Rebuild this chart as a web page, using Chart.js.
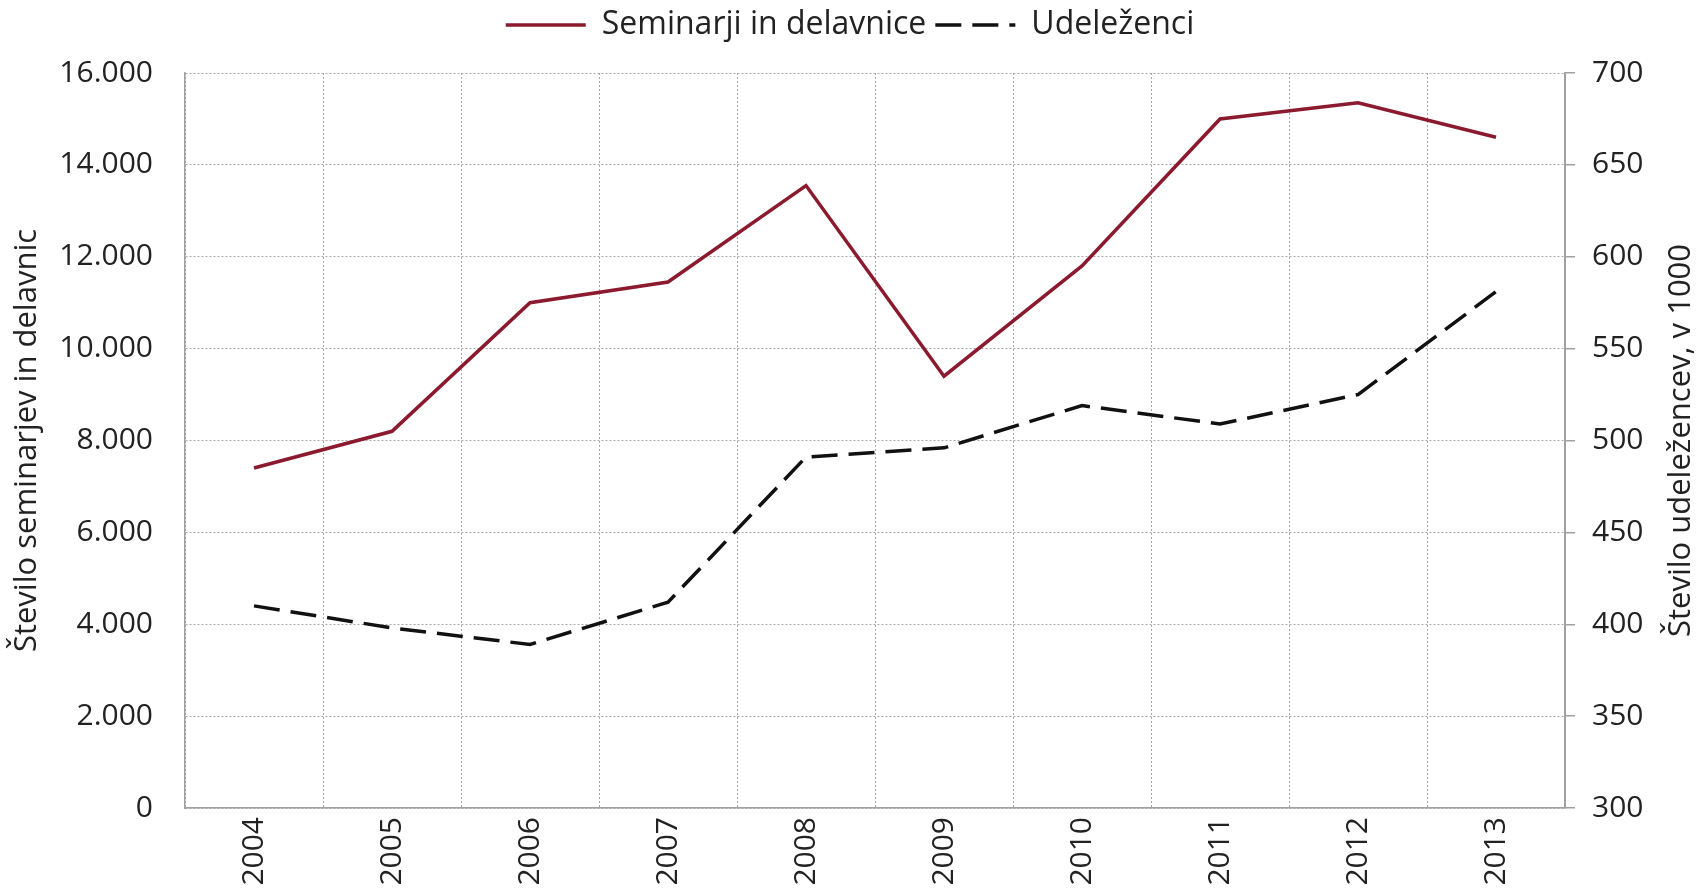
<!DOCTYPE html>
<html lang="sl">
<head>
  <meta charset="UTF-8">
  <title>Seminarji in delavnice</title>
  <script src="https://cdn.jsdelivr.net/npm/chart.js"></script>
  <style>
    body { margin: 0; background: #fff; }
    #wrap { width: 1700px; height: 892px; }
  </style>
</head>
<body>
  <div id="wrap"><canvas id="chart" width="1700" height="892"></canvas></div>

  <script>
    // podatki
    const years = ['2004', '2005', '2006', '2007', '2008', '2009', '2010', '2011', '2012', '2013'];
    const seminarji = [7400, 8200, 11000, 11450, 13550, 9400, 11800, 15000, 15350, 14600];
    const udelezenci = [410, 398, 389, 412, 491, 496, 519, 509, 525, 581];

    const FONT = '"Open Sans", "Noto Sans", sans-serif';
    const TXT = '#222';

    // legenda dobi nekaj prostora pod sabo
    const legendGap = {
      id: 'legendGap',
      afterInit(chart) {
        const lg = chart.legend;
        const fit = lg.fit.bind(lg);
        lg.fit = function() { fit(); this.height += 22; };
      }
    };

    // desni naslov osi, bere se od spodaj navzgor
    const rightTitle = {
      id: 'rightTitle',
      afterDraw(chart) {
        const ctx = chart.ctx;
        const a = chart.chartArea;
        ctx.save();
        ctx.translate(1681, (a.top + a.bottom) / 2);
        ctx.rotate(-Math.PI / 2);
        ctx.font = '31px ' + FONT;
        ctx.fillStyle = TXT;
        ctx.textAlign = 'center';
        ctx.textBaseline = 'middle';
        ctx.fillText('Število udeležencev, v 1000', 0, 0);
        ctx.restore();
      }
    };

    const ctx = document.getElementById('chart').getContext('2d');
    new Chart(ctx, {
      type: 'line',
      data: {
        labels: years,
        datasets: [{
          label: 'Seminarji in delavnice',
          data: seminarji,
          yAxisID: 'y',
          borderColor: '#8b1a2e',
          backgroundColor: '#8b1a2e',
          borderWidth: 3.5,
          pointRadius: 0,
          tension: 0
        }, {
          label: 'Udeleženci',
          data: udelezenci,
          yAxisID: 'y1',
          borderColor: '#111',
          backgroundColor: '#111',
          borderWidth: 3.5,
          borderDash: [26, 11],
          pointRadius: 0,
          tension: 0
        }]
      },
      options: {
        responsive: false,
        animation: false,
        layout: { padding: 0 },
        plugins: {
          legend: {
            position: 'top',
            labels: {
              usePointStyle: true,
              pointStyle: 'line',
              pointStyleWidth: 80,
              boxWidth: 80,
              padding: 9,
              color: TXT,
              font: { family: FONT, size: 32 },
              generateLabels: function(chart) {
                const items = Chart.defaults.plugins.legend.labels.generateLabels(chart);
                items.forEach(function(it) {
                  const ds = chart.data.datasets[it.datasetIndex];
                  it.lineDash = ds.borderDash || [];
                  it.lineWidth = ds.borderWidth;
                  it.strokeStyle = ds.borderColor;
                });
                return items;
              }
            }
          },
          tooltip: { enabled: false }
        },
        scales: {
          x: {
            offset: true,
            afterFit: function(s) { s.height = 84; },
            grid: {
              offset: true,
              color: '#a8a8a8',
              lineWidth: 1,
              drawTicks: false
            },
            border: { display: true, color: '#a0a0a0', width: 1.5, dash: [2, 2] },
            ticks: {
              color: TXT,
              minRotation: 90,
              maxRotation: 90,
              padding: 9,
              font: { family: FONT, size: 30 }
            }
          },
          y: {
            position: 'left',
            min: 0,
            max: 16000,
            afterFit: function(s) { s.width = 185; },
            grid: {
              color: '#a8a8a8',
              lineWidth: 1,
              drawTicks: false
            },
            border: { display: true, color: '#a0a0a0', width: 1.5, dash: [2, 2] },
            ticks: {
              stepSize: 2000,
              padding: 32,
              color: TXT,
              font: { family: FONT, size: 30 },
              callback: function(v) {
                return String(v).replace(/\B(?=(\d{3})+(?!\d))/g, '.');
              }
            },
            title: {
              display: true,
              text: 'Število seminarjev in delavnic',
              color: TXT,
              padding: 9,
              font: { family: FONT, size: 31 }
            }
          },
          y1: {
            position: 'right',
            min: 300,
            max: 700,
            afterFit: function(s) { s.width = 135; },
            grid: {
              drawOnChartArea: false,
              drawTicks: true,
              tickLength: 10,
              color: '#a0a0a0',
              lineWidth: 1.5
            },
            border: { display: true, color: '#a0a0a0', width: 2 },
            ticks: {
              stepSize: 50,
              padding: 17,
              color: TXT,
              font: { family: FONT, size: 30 }
            }
          }
        }
      },
      plugins: [legendGap, rightTitle]
    });
  </script>
</body>
</html>
